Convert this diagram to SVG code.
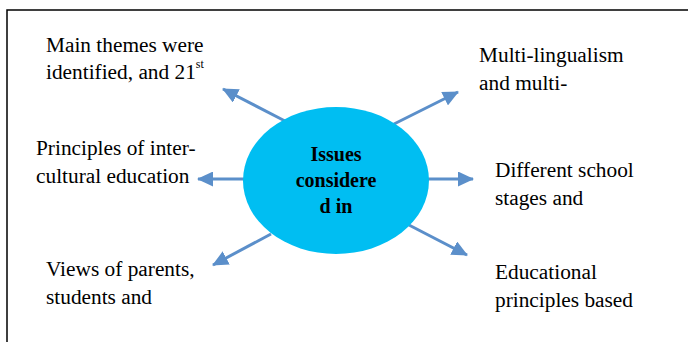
<svg xmlns="http://www.w3.org/2000/svg" width="688" height="342" viewBox="0 0 688 342">
<defs>
<marker id="ah" markerWidth="16" markerHeight="15" refX="15" refY="7.5" orient="auto" markerUnits="userSpaceOnUse" viewBox="0 0 16 15">
<path d="M0,0 L16,7.5 L0,15 z" fill="#5B8FCA"/>
</marker>
<style>
.t{font-family:"Liberation Serif","Times New Roman",serif;font-size:21.33px;fill:#000}
.c{font-family:"Liberation Serif","Times New Roman",serif;font-size:20px;font-weight:bold;fill:#000;text-anchor:middle}
.a{stroke:#5B8FCA;stroke-width:3;fill:none;marker-end:url(#ah)}
</style>
</defs>
<rect x="0" y="0" width="688" height="342" fill="#fff"/>
<path d="M7,342 V10 H688" fill="none" stroke="#000" stroke-width="1.5"/>
<g id="connectors">
<line class="a" x1="285" y1="121" x2="223" y2="89"/>
<line class="a" x1="394" y1="124" x2="458" y2="92"/>
<line class="a" x1="244" y1="179" x2="198" y2="179"/>
<line class="a" x1="428" y1="179" x2="473" y2="179"/>
<line class="a" x1="271" y1="234" x2="213" y2="265"/>
<line class="a" x1="407" y1="224" x2="467" y2="255"/>
</g>
<g id="center">
<ellipse cx="336" cy="180.5" rx="93" ry="73.5" fill="#00BEF2"/>
<text class="c" x="336" y="161">Issues</text>
<text class="c" x="336" y="187">considere</text>
<text class="c" x="336" y="213">d in</text>
</g>
<g id="n1"><text class="t" x="46" y="52">Main themes were</text><text class="t" x="46" y="79">identified, and 21<tspan font-size="12" dy="-11">st</tspan></text></g>
<g id="n2"><text class="t" x="479" y="62">Multi-lingualism</text><text class="t" x="479" y="90">and multi-</text></g>
<g id="n3"><text class="t" x="36" y="155">Principles of inter-</text><text class="t" x="36" y="183">cultural education</text></g>
<g id="n4"><text class="t" x="495" y="177">Different school</text><text class="t" x="495" y="205">stages and</text></g>
<g id="n5"><text class="t" x="46" y="276">Views of parents,</text><text class="t" x="46" y="304">students and</text></g>
<g id="n6"><text class="t" x="495" y="279">Educational</text><text class="t" x="495" y="307">principles based</text></g>
</svg>
